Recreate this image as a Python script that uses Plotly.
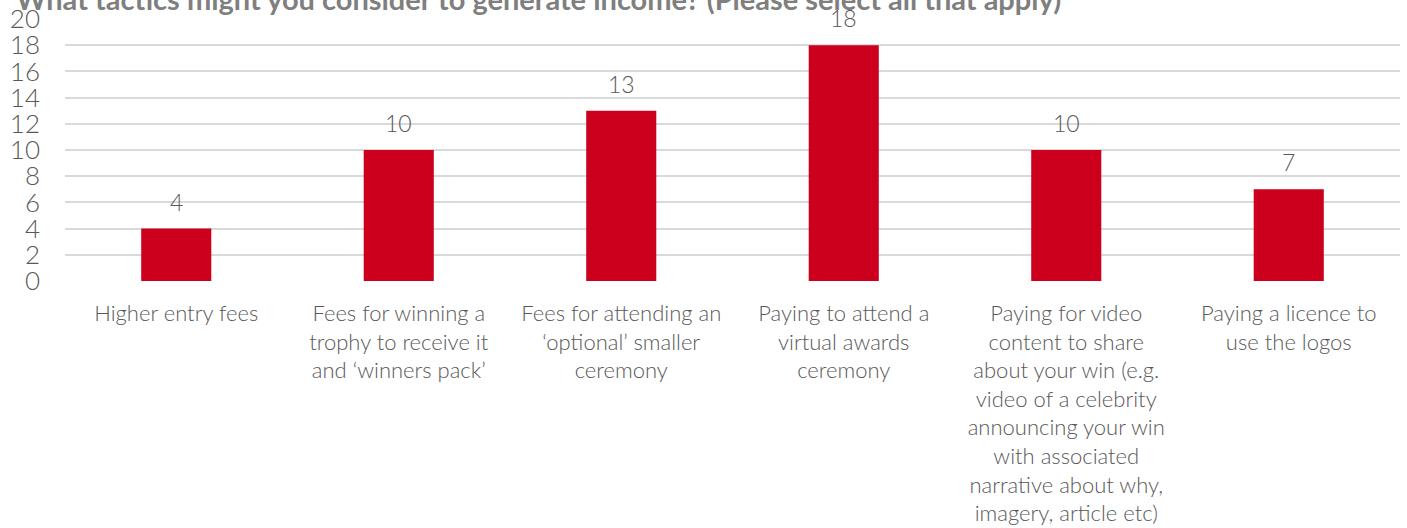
import plotly.graph_objects as go

title_text = "What tactics might you consider to generate income? (Please select all that apply)"
categories = [
    "Higher entry fees",
    "Fees for winning a<br>trophy to receive it<br>and ‘winners pack’",
    "Fees for attending an<br>‘optional’ smaller<br>ceremony",
    "Paying to attend a<br>virtual awards<br>ceremony",
    "Paying for video<br>content to share<br>about your win (e.g.<br>video of a celebrity<br>announcing your win<br>with associated<br>narrative about why,<br>imagery, article etc)",
    "Paying a licence to<br>use the logos",
]
values = [4, 10, 13, 18, 10, 7]
y_ticks = list(range(0, 21, 2))

FONT = "Lato Light, Lato"
GREY = "#595959"

fig = go.Figure()
fig.add_trace(go.Bar(
    x=categories, y=values,
    marker=dict(color="#CC001C", line=dict(width=0)),
    hoverinfo="skip",
))

for c, v in zip(categories, values):
    fig.add_annotation(
        x=c, y=v, text=str(v), showarrow=False,
        yanchor="bottom", yshift=11,
        font=dict(family=FONT, size=23, color=GREY, weight=300),
    )

fig.add_annotation(
    xref="paper", yref="paper", x=0, y=1, xanchor="left", yanchor="middle",
    xshift=-51, yshift=21, text="<b>" + title_text + "</b>", showarrow=False,
    font=dict(family="Lato", size=29, color="#7F7F7F"),
)

fig.update_layout(
    width=1407, height=528,
    margin=dict(l=65, r=7, t=19, b=247),
    paper_bgcolor="white", plot_bgcolor="white",
    bargap=0.685,
    showlegend=False,
    font=dict(family=FONT, color=GREY, weight=300),
)
fig.update_xaxes(
    tickfont=dict(family=FONT, size=22, color=GREY, weight=300),
    ticklabelstandoff=17, showline=False, showgrid=False, automargin=False,
)
fig.update_yaxes(
    range=[0, 20], tickvals=y_ticks,
    tickfont=dict(family=FONT, size=26, color=GREY, weight=300),
    gridcolor="#D9D9D9", gridwidth=1.5, zeroline=False,
    ticklabelstandoff=24, showline=False, automargin=False,
)

fig.write_html(
    "out.html",
    config={"displayModeBar": False},
    post_script="document.body.style.margin='0';document.body.style.overflow='hidden';",
)
